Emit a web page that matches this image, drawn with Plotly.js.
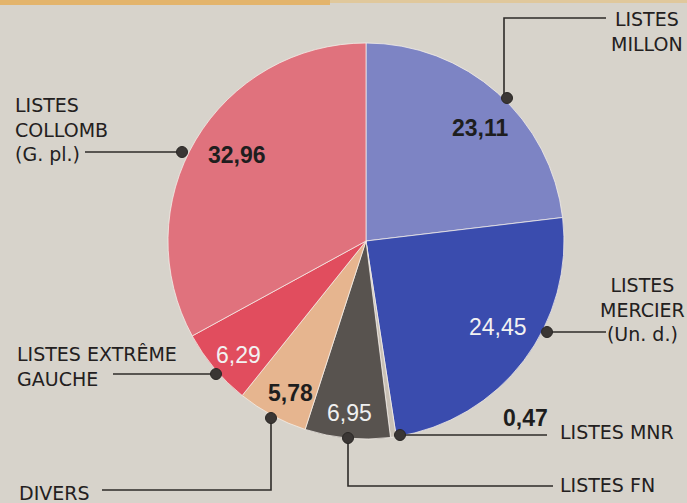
<!DOCTYPE html>
<html><head><meta charset="utf-8">
<script src="https://cdn.plot.ly/plotly-3.0.1.min.js"></script>
<style>html,body{margin:0;padding:0;background:#d7d3cb;}#chart{width:687px;height:503px;}</style>
</head><body><div id="chart"></div>
<script>
// ---- data ----
var parties = ["Listes Millon", "Listes Mercier (Un. d.)", "Listes MNR", "Listes FN", "Divers", "Listes extrême gauche", "Listes Collomb (G. pl.)"];
var shares = [23.11, 24.45, 0.47, 6.95, 5.78, 6.29, 32.96];
var labelTexts = ["LISTES<br>MILLON", "LISTES<br>MERCIER<br>(Un. d.)", "LISTES MNR", "LISTES FN", "DIVERS", "LISTES EXTRÊME<br>GAUCHE", "LISTES<br>COLLOMB<br>(G. pl.)"];
var sliceColors = ["#7d84c4", "#3a4cae", "#c9c1b6", "#58534f", "#e6b58f", "#e14d5e", "#e0727d"];
var numberColors = ["#1e1e1e", "#f2f2f2", "#1e1e1e", "#f0f0f0", "#1e1e1e", "#f2f2f2", "#1e1e1e"];
var numberBold = [true, false, true, false, true, false, true];

// ---- layout helpers (pixel -> paper) ----
var W = 687, H = 503;
function px(x){ return x / W; }
function py(y){ return 1 - y / H; }

var cx = 366, cy = 241, R = 198;

// number label positions (px)
var numPos = [[480,128],[498,327],[525,418],[349,413],[290,393],[238,355],[237,155]];
// name label positions (px), anchor, align
var namePos = [
  {x:647, y:31, xa:"center", al:"center"},
  {x:642, y:309, xa:"center", al:"center"},
  {x:558, y:432, xa:"left", al:"left"},
  {x:558, y:485, xa:"left", al:"left"},
  {x:17, y:493, xa:"left", al:"left"},
  {x:15, y:366, xa:"left", al:"left"},
  {x:13, y:129, xa:"left", al:"left"}
];
// leader paths (px) and dot positions
var leaders = [
  [[507,98],[504,98],[504,18],[606,18]],
  [[547,332],[606,332]],
  [[400,435],[547,435]],
  [[348,438],[348,486],[553,486]],
  [[271,418],[271,490],[102,490]],
  [[216,374],[113,374]],
  [[182,152],[85,152]]
];
var dots = [[507,98],[547,332],[400,435],[348,438],[271,418],[216,374],[182,152]];

var lineColor = "#2e2b29";
var shapes = [];
// orange strip at top
shapes.push({type:"rect", xref:"paper", yref:"paper", x0:0, x1:px(330), y0:py(5), y1:1, fillcolor:"#e3b46c", line:{width:0}, layer:"below"});
shapes.push({type:"rect", xref:"paper", yref:"paper", x0:px(330), x1:1, y0:py(3), y1:1, fillcolor:"#e0c89c", line:{width:0}, layer:"below"});
leaders.forEach(function(pts){
  var d = pts.map(function(p,i){ return (i?"L":"M") + px(p[0]) + "," + py(p[1]); }).join(" ");
  shapes.push({type:"path", xref:"paper", yref:"paper", path:d, line:{color:lineColor, width:1.6}});
});
var rDot = 5.5;
dots.forEach(function(p){
  shapes.push({type:"circle", xref:"paper", yref:"paper",
    x0:px(p[0]-rDot), x1:px(p[0]+rDot), y0:py(p[1]+rDot), y1:py(p[1]-rDot),
    fillcolor:"#3a3634", line:{color:"#2a2725", width:1}});
});

var annotations = [];
shares.forEach(function(v,i){
  annotations.push({
    xref:"paper", yref:"paper", x:px(numPos[i][0]), y:py(numPos[i][1]),
    xanchor:"center", yanchor:"middle", showarrow:false,
    text: v.toFixed(2).replace(".", ","),
    font:{family:"Liberation Sans, Arial, sans-serif", size:23, color:numberColors[i], weight: numberBold[i] ? 700 : 400}
  });
  annotations.push({
    xref:"paper", yref:"paper", x:px(namePos[i].x), y:py(namePos[i].y),
    xanchor:namePos[i].xa, yanchor:"middle", align:namePos[i].al, showarrow:false,
    text: labelTexts[i],
    font:{family:"DejaVu Sans, sans-serif", size:19, color:"#232020"}
  });
});

var trace = {
  type:"pie",
  labels: parties,
  values: shares,
  sort:false,
  direction:"clockwise",
  rotation:0,
  textinfo:"none",
  hoverinfo:"none",
  marker:{colors:sliceColors, line:{color:"rgba(245,240,235,0.75)", width:1}},
  domain:{x:[px(cx-R), px(cx+R)], y:[py(cy+R), py(cy-R)]},
  showlegend:false
};

var layout = {
  width:W, height:H,
  margin:{l:0,r:0,t:0,b:0},
  paper_bgcolor:"#d7d3cb",
  plot_bgcolor:"#d7d3cb",
  showlegend:false,
  shapes:shapes,
  annotations:annotations
};

Plotly.newPlot("chart", [trace], layout, {displayModeBar:false, staticPlot:true});
</script>
</body></html>
